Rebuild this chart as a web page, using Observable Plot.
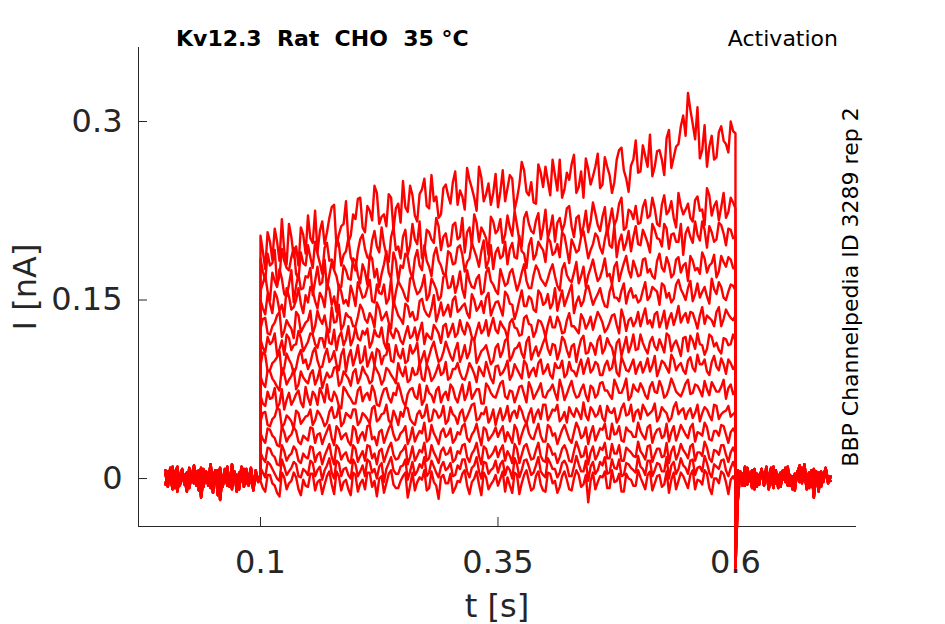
<!DOCTYPE html>
<html><head><meta charset="utf-8">
<script src="https://cdn.jsdelivr.net/npm/d3@7"></script>
<script src="https://cdn.jsdelivr.net/npm/@observablehq/plot@0.6"></script>
<style>body{margin:0;background:#fff} svg{font-family:"DejaVu Sans",sans-serif}</style>
</head><body><div id="chart"></div>
<script>
const xTicks = [0.1, 0.35, 0.6];
const yTicks = [0, 0.15, 0.3];
const xDomain = [-0.0284, 0.7274];
const yDomain = [-0.0403, 0.3622];
const stepStart = 0.1, stepDt = 0.005, baseDt = 0.0025, postStart = 0.6;
const title = "Kv12.3  Rat  CHO  35 °C";
const protocol = "Activation";
const source = "BBP Channelpedia ID 3289 rep 2";

// currents in pA during the voltage step, samples at 0.100, 0.105, ... 0.600 s
const sweep1 = [204,176,199,210,183,192,214,186,179,205, 221,198,190,216,207,228,195,212,233,204, 218,236,207,225,246,214,222,239,209,231, 250,224,238,216,243,229,255,237,222,247, 231,258,242,226,251,236,262,233,248,240, 228,259,244,252,235,266,241,249,231,257, 262,238,255,268,243,251,272,245,236,260, 254,273,247,262,240,268,278,252,263,284, 258,271,289,262,276,255,293,270,281,305, 324,298,312,276,262,288,270,296,281,300, 290];
const sweep2 = [185,166,179,192,170,183,175,194,168,181, 196,177,189,172,198,184,203,179,191,186, 175,201,193,184,208,190,197,182,211,195, 203,188,214,197,185,209,201,219,192,206, 196,215,203,190,211,222,199,207,188,216, 209,198,221,204,213,195,224,208,217,201, 226,210,199,219,214,229,203,221,212,207, 232,213,220,205,227,218,236,211,224,229, 215,234,221,227,212,238,225,219,240,222, 231,216,237,226,244,221,233,228,219,236, 227];
const sweep3 = [158,171,150,166,176,155,163,148,172,160, 169,154,178,165,159,182,170,161,175,167, 183,164,174,188,169,161,180,173,190,166, 177,186,168,192,175,183,170,194,179,172, 189,181,196,174,185,192,178,200,183,176, 194,187,180,198,185,191,177,202,188,195, 182,199,190,186,204,181,196,192,208,185, 197,203,189,210,194,186,205,198,191,212, 196,204,190,209,201,214,193,206,199,188, 211,198,205,216,194,207,201,213,196,209, 203];
const sweep4 = [150,138,147,157,141,136,153,144,160,139, 148,158,143,152,164,146,140,157,150,162, 145,159,153,167,148,156,163,151,144,166, 158,149,170,155,162,150,168,159,153,172, 161,156,174,152,166,160,171,157,177,163, 155,169,164,176,158,173,166,160,179,168, 162,175,170,158,181,167,173,164,178,171, 184,166,176,170,163,182,174,187,169,177, 171,185,176,168,189,174,180,172,186,179, 166,183,177,190,173,181,169,187,178,184, 176];
const sweep5 = [126,135,121,131,140,124,129,118,137,127, 133,122,141,130,126,144,132,125,139,135, 128,146,134,139,127,143,136,131,149,137, 130,145,140,134,151,138,143,132,148,141, 136,153,142,147,135,150,144,139,156,143, 149,137,154,146,141,158,145,151,140,155, 148,143,160,150,145,157,139,153,149,162, 146,155,151,144,163,152,158,147,160,154, 150,165,153,159,146,162,156,151,167,155, 160,149,164,157,153,168,155,161,150,163, 158];
const sweep6 = [117,106,113,122,109,104,118,112,124,107, 115,121,110,118,126,113,108,123,117,112, 127,116,121,110,125,119,114,129,118,123, 113,128,120,116,131,122,117,126,114,130, 124,119,133,121,127,116,131,125,120,135, 122,128,118,134,126,121,137,129,124,132, 119,136,127,131,123,139,128,122,134,130, 125,140,131,126,137,129,142,124,135,132, 128,143,133,138,127,141,134,129,145,136, 131,139,126,144,137,133,140,128,142,135, 137];
const sweep7 = [95,104,91,99,107,93,100,88,103,97, 92,106,99,94,109,101,96,104,90,108, 102,97,111,100,95,107,103,113,98,104, 109,99,105,114,101,96,110,106,100,115, 103,108,98,112,106,117,102,109,104,99, 113,107,118,103,110,105,115,100,111,108, 119,104,112,107,116,102,113,109,120,106, 111,116,105,118,110,114,103,119,112,108, 121,109,115,111,117,106,120,113,110,118, 107,116,122,112,109,119,114,105,117,113, 116];
const sweep8 = [86,77,90,81,74,88,83,92,79,85, 80,91,84,76,89,86,94,81,87,78, 92,85,89,80,95,87,83,91,84,97, 86,81,93,88,84,96,82,90,87,98, 85,92,89,83,97,88,94,86,91,80, 95,89,99,87,92,84,96,90,86,100, 91,87,97,93,85,98,90,94,88,101, 92,96,87,99,93,89,102,91,95,88, 98,94,90,103,92,97,89,100,95,91, 99,93,104,96,90,98,94,101,88,97, 95];
const sweep9 = [70,61,67,76,63,58,72,66,74,60, 68,73,62,71,79,65,69,59,74,67, 63,77,70,66,73,61,75,68,72,80, 65,71,76,67,62,78,70,74,64,73, 79,68,72,66,81,71,75,63,77,69, 74,82,67,73,70,78,64,76,71,80, 68,75,72,83,66,77,73,69,79,65, 76,71,81,74,67,78,72,84,69,75, 80,70,77,73,82,68,76,79,71,74, 83,72,78,69,75,81,73,77,67,79, 74];
const sweep10 = [48,56,44,52,58,46,51,42,55,49, 53,45,57,50,47,60,52,44,55,51, 58,48,53,46,61,50,55,49,57,45, 52,59,47,54,51,62,49,56,53,46, 60,52,55,48,57,63,50,54,47,58, 53,49,61,55,51,57,46,59,54,50, 62,53,57,48,56,60,52,55,64,49, 57,54,51,61,55,47,59,53,62,56, 50,58,55,63,52,57,48,60,54,59, 56,51,62,55,58,49,61,54,57,52, 56];
const sweep11 = [38,30,41,34,27,39,35,43,31,36, 32,42,37,29,40,34,44,33,38,28, 41,36,32,45,35,39,30,42,37,33, 40,29,43,36,38,31,45,34,39,35, 42,33,37,46,31,40,36,43,32,38, 35,44,39,30,41,37,47,34,40,36, 31,43,38,35,45,33,39,42,36,29, 44,37,41,34,46,38,32,43,39,35, 40,33,45,37,42,36,31,44,38,41, 34,46,39,36,43,32,40,45,37,39, 38];
const sweep12 = [22,14,25,18,11,23,19,27,15,21, 17,26,20,12,24,18,28,16,22,13, 25,19,15,27,21,23,14,26,20,17, 24,12,27,19,22,15,28,18,23,20, 26,16,21,29,14,24,19,27,17,22, 18,28,23,13,25,20,29,16,24,19, 14,26,21,18,28,15,23,25,19,12, 27,20,24,17,29,21,15,26,22,18, 23,16,28,20,25,19,13,27,21,24, 17,29,22,19,26,14,23,28,20,22, 21];
const sweep13 = [9,1,12,4,-2,10,6,14,2,8, 3,13,7,-1,11,5,15,2,9,0, 12,6,2,14,8,10,-3,13,7,4, 11,-1,14,6,9,2,15,5,10,7, 13,3,8,16,1,11,6,14,4,9, 5,15,10,0,12,7,16,3,11,6, 1,13,8,5,15,2,10,12,6,-2, 14,7,11,4,16,8,2,13,9,5, 10,3,15,7,12,6,0,14,8,11, 4,16,9,6,13,1,10,15,7,9, 8];
const sweep14 = [-2,-11,3,-6,-15,1,-4,5,-9,-1, -7,4,-3,-13,2,-5,6,-10,-1,-14, 3,-4,-9,5,-2,0,-12,4,-5,-8, 2,-16,5,-3,-1,-10,6,-6,1,-4, 4,-8,-3,7,-13,0,-5,5,-9,-2, -6,6,1,-12,3,-4,7,-10,2,-5, -11,4,-2,-7,6,-9,0,3,-5,-20, 5,-3,1,-8,7,-2,-11,4,-1,-6, 1,-9,6,-4,3,-5,-12,5,-2,2, -8,7,-1,-5,4,-13,0,6,-3,-1, -2];

// currents in pA during the step, samples in between: 0.1025, 0.1075, ... 0.5975 s
const mid1 = [191,207,184,199,218,180,203,195,211,189, 202,225,208,197,219,230,205,214,199,222, 235,211,229,217,240,220,212,236,227,215, 228,246,221,239,252,227,233,219,244,238, 249,230,237,261,244,225,253,239,230,256, 241,233,255,226,247,259,238,232,264,245, 250,268,242,236,257,264,240,258,269,247, 262,244,270,255,249,276,259,241,268,257, 280,262,254,275,268,286,261,279,296,288, 310,285,269,297,279,268,291,284,274,292];
const mid2 = [174,189,181,163,193,177,186,172,190,179, 186,199,181,194,183,176,197,188,202,181, 191,205,186,200,195,211,188,203,192,185, 209,196,201,216,190,207,198,212,203,195, 213,201,219,207,196,215,211,202,220,206, 218,205,211,225,200,219,214,206,223,211, 202,221,215,208,227,212,219,204,225,216, 223,208,228,216,213,231,209,226,218,214, 228,219,236,214,230,222,233,211,229,226, 219,234,225,213,238,229,217,240,224,232];
const mid3 = [164,157,173,161,168,153,175,162,159,170, 177,166,163,184,171,175,160,179,168,185, 171,180,163,185,176,172,191,168,183,179, 189,174,185,179,196,178,188,183,172,191, 180,194,188,182,198,186,191,177,196,190, 185,199,193,186,204,189,196,184,199,192, 202,188,197,207,193,201,190,203,197,192, 206,194,201,196,213,199,192,208,203,197, 209,198,214,202,195,210,205,199,214,206, 203,216,200,209,212,199,215,206,210,202];
const mid4 = [143,155,139,152,146,160,142,150,147,154, 161,149,156,144,159,153,163,147,145,155, 165,152,160,149,163,155,147,168,157,162, 152,168,161,157,171,154,164,150,169,160, 170,163,159,175,161,168,155,173,166,158, 176,162,173,167,164,180,160,171,175,165, 168,180,162,176,171,165,182,170,161,177, 174,169,185,172,178,166,181,175,183,170, 184,173,170,183,177,186,169,184,173,181, 187,175,172,185,179,188,174,182,186,177];
const mid5 = [134,122,128,137,119,133,126,140,123,131, 141,128,134,137,123,131,146,129,136,128, 136,142,131,135,148,133,140,126,143,134, 147,136,133,149,142,136,154,139,137,146, 150,140,145,139,155,141,149,152,137,148, 143,157,147,134,150,145,153,142,158,146, 155,147,141,158,151,163,148,145,159,154, 151,160,145,157,152,149,164,156,152,148, 158,150,161,157,164,152,148,163,159,150, 166,155,152,161,147,159,165,152,157,162];
const mid6 = [110,119,115,104,116,121,108,113,118,111, 122,113,118,110,114,125,119,112,128,117, 118,124,126,115,120,127,109,122,126,116, 121,118,127,124,113,119,129,122,128,119, 130,122,125,131,119,124,122,133,128,125, 132,125,131,127,120,135,130,119,133,127, 129,127,136,122,133,128,125,138,126,136, 133,136,123,131,138,122,135,133,128,140, 136,130,127,140,133,126,139,136,131,139, 140,133,137,130,135,128,144,134,138,133];
const mid7 = [106,90,97,102,87,105,96,93,108,100, 97,110,93,103,98,107,91,109,102,95, 112,99,94,106,109,96,104,99,112,101, 97,112,108,95,107,103,115,98,106,109, 99,114,104,101,118,97,107,112,96,110, 102,116,99,109,114,101,119,106,103,114, 109,113,100,119,108,111,98,117,105,114, 104,120,109,113,101,117,111,106,121,109, 114,105,119,108,112,122,107,116,103,119, 120,109,113,104,121,111,108,118,112,121];
const mid8 = [80,91,84,77,93,79,86,75,90,82, 88,79,92,83,85,93,78,90,84,89, 80,94,86,82,91,79,93,87,80,90, 94,83,87,97,82,91,85,96,89,83, 92,97,84,89,93,81,90,98,84,94, 87,93,83,96,88,99,85,93,97,88, 96,84,93,99,88,91,86,100,95,89, 98,87,95,91,103,86,97,90,100,94, 89,101,95,86,99,93,104,91,97,88, 102,90,96,100,87,103,91,96,100,92];
const mid9 = [63,73,68,59,75,66,62,71,64,77, 62,70,76,64,67,73,61,77,70,63, 74,65,72,78,62,69,76,64,70,73, 61,75,69,79,66,72,64,77,70,66, 76,64,79,71,67,75,63,80,72,68, 80,69,74,64,77,71,81,67,75,69, 73,79,66,76,71,82,68,75,70,78, 68,80,74,70,83,72,77,66,79,73, 76,67,81,72,77,70,84,73,69,80, 71,79,74,82,70,77,73,83,76,71];
const mid10 = [55,45,50,59,43,53,48,57,46,52, 58,49,54,44,56,51,61,47,53,58, 45,55,50,59,48,54,62,46,52,56, 60,50,45,57,53,48,58,51,61,49, 54,46,58,52,62,49,55,60,51,45, 59,53,48,57,61,50,54,47,58,62, 49,58,62,51,47,55,59,50,53,60, 52,61,48,56,59,51,63,54,48,58, 62,53,57,48,60,55,51,64,57,50, 59,55,48,60,53,62,50,56,61,54];
const mid11 = [33,42,36,28,44,31,37,40,29,34, 43,30,38,35,45,28,41,36,31,44, 30,39,44,33,28,41,36,46,32,38, 44,34,31,40,47,33,38,29,42,37, 30,39,44,34,37,46,28,41,35,43, 40,31,35,45,29,43,38,33,46,31, 45,36,29,41,39,30,47,34,43,38, 32,42,46,33,37,44,31,40,35,47, 36,43,30,41,34,46,39,32,45,37, 43,31,38,47,33,40,36,44,30,42];
const mid12 = [17,26,20,12,28,15,21,24,13,18, 27,14,22,19,29,12,25,20,15,28, 14,23,28,17,12,25,20,30,16,22, 28,18,15,24,30,17,22,13,26,21, 14,23,28,18,21,30,12,25,19,27, 24,15,19,29,13,27,22,17,30,15, 29,20,13,25,23,14,31,18,27,22, 16,26,30,17,21,28,15,24,19,31, 20,27,14,25,18,30,23,16,29,21, 27,15,22,31,17,24,20,28,14,26];
const mid13 = [5,14,8,0,16,3,9,12,1,6, 15,2,10,7,17,0,13,8,3,16, 2,11,16,5,0,13,8,18,4,10, 16,6,3,12,18,5,10,1,14,9, 2,11,16,6,9,18,0,13,7,15, 12,3,7,17,1,15,10,5,18,3, 17,8,1,13,11,2,19,6,15,10, 4,14,18,5,9,16,3,12,7,19, 8,15,2,13,6,18,11,4,17,9, 15,3,10,19,5,12,8,16,2,14];
const mid14 = [-8,3,-4,-12,5,-9,-2,1,-14,-6, 4,-10,-1,-5,6,-13,2,-3,-9,5, -11,-1,5,-7,-15,2,-4,7,-8,-2, 5,-6,-10,1,7,-8,-3,-17,3,-4, -12,-2,4,-6,-3,6,-14,1,-5,3, 0,-11,-6,5,-13,3,-2,-8,6,-10, 5,-4,-12,2,-1,-10,7,-7,3,-2, -9,2,6,-8,-3,4,-11,0,-6,7, -4,3,-10,2,-7,6,-1,-9,5,-3, 3,-9,-2,7,-8,0,-4,4,-13,2];

// holding current in pA, one sample per 2.5 ms: before the step (0 to 0.1 s) and after it (0.6 to 0.7 s)
const preBase1 = [4,-7,9,-2,6,-11,1,8,-5,5, -8,2,11,-3,7,-16,0,6,-6,3, -12,5,-2,9,-7,1,7,-4,12,-1, 3,-9,6,-3,8,-6,2,-10,5,0, 1];
const preBase2 = [-5,6,-1,10,-8,2,-3,7,0,-11, 5,-2,8,-6,1,9,-7,3,-1,12, -4,0,7,-18,2,-3,10,-7,1,6, -11,5,-2,8,-4,0,9,-6,3,-1, 0];
const preBase3 = [7,-2,1,-9,5,10,-6,0,3,-7, 9,-1,-4,6,-10,2,8,-3,5,-8, 1,7,-14,3,-2,8,-6,0,-9,5, 2,-4,10,-7,1,-2,6,-8,7,-3, 0];
const postBase1 = [-75,-18,5,-6,9,-2,4,-8,7,0, -5,8,-3,6,-9,2,10,-4,3,-7, 5,-1,8,-6,2,-10,6,-3,9,-2, 4,-8,7,-16,3,-5,6,-1,8,-4, 2];
const postBase2 = [2,-8,6,-3,10,-5,1,7,-9,4, -2,8,-6,3,0,9,-4,5,-8,2, 7,-3,10,-5,1,-7,4,11,-2,6, -9,3,-4,8,-1,5,-7,2,9,-3, 1];
const postBase3 = [-3,7,-1,4,-6,9,0,-4,8,-7, 3,6,-2,10,-5,1,-8,7,-3,5, -1,9,-6,3,-9,4,0,7,-4,12, -2,5,-7,2,6,-11,4,-3,7,0, -2];

const sweeps = [sweep1,sweep2,sweep3,sweep4,sweep5,sweep6,sweep7,sweep8,sweep9,sweep10,sweep11,sweep12,sweep13,sweep14];
const mids = [mid1,mid2,mid3,mid4,mid5,mid6,mid7,mid8,mid9,mid10,mid11,mid12,mid13,mid14];
const pres = [preBase1, preBase2, preBase3];
const posts = [postBase1, postBase2, postBase3];

const rows = [];
sweeps.forEach((s, k) => {
  pres[k % 3].forEach((v, i) => rows.push({trace: k, t: i * baseDt, i: v / 1000}));
  s.forEach((v, i) => {
    rows.push({trace: k, t: stepStart + i * stepDt, i: v / 1000});
    if (i < mids[k].length) rows.push({trace: k, t: stepStart + i * stepDt + stepDt / 2, i: mids[k][i] / 1000});
  });
  posts[k % 3].forEach((v, i) => rows.push({trace: k, t: postStart + i * baseDt, i: v / 1000}));
});

const axisColor = "#262626";
const plot = Plot.plot({
  width: 945, height: 624,
  marginLeft: 138, marginRight: 89, marginTop: 47, marginBottom: 98,
  style: {fontFamily: '"DejaVu Sans", sans-serif', background: "#fff", overflow: "visible"},
  x: {domain: xDomain},
  y: {domain: yDomain},
  marks: [
    Plot.ruleX([xDomain[0]], {stroke: axisColor, strokeWidth: 1}),
    Plot.ruleY([yDomain[0]], {stroke: axisColor, strokeWidth: 1}),
    Plot.tickX(xTicks, {x: d => d, stroke: axisColor, insetTop: 470}),
    Plot.tickY(yTicks, {y: d => d, stroke: axisColor, insetRight: 709}),
    Plot.axisX(xTicks, {tickSize: 0, tickPadding: 24, fontSize: 32, color: axisColor, tickFormat: d => String(d), label: null}),
    Plot.axisY(yTicks, {tickSize: 0, tickPadding: 16, fontSize: 32, color: axisColor, tickFormat: d => String(d), label: null}),
    Plot.line(rows, {x: "t", y: "i", z: "trace", stroke: "#ff0000", strokeWidth: 2.4})
  ]
});

const svg = d3.select(plot);
svg.append("text").attr("x", 176).attr("y", 46).attr("font-size", 22).attr("font-weight", "bold")
  .attr("text-anchor", "start").attr("fill", "#000").style("white-space", "pre").text(title);
svg.append("text").attr("x", 838).attr("y", 46).attr("font-size", 22).attr("text-anchor", "end")
  .attr("fill", "#000").text(protocol);
svg.append("text").attr("transform", "translate(858,287) rotate(-90)").attr("font-size", 22)
  .attr("text-anchor", "middle").attr("fill", "#000").text(source);
svg.append("text").attr("transform", "translate(36,287) rotate(-90)").attr("font-size", 32)
  .attr("text-anchor", "middle").attr("fill", axisColor).text("I [nA]");
svg.append("text").attr("x", 497).attr("y", 617).attr("font-size", 32)
  .attr("text-anchor", "middle").attr("fill", axisColor).text("t [s]");

document.getElementById("chart").appendChild(plot);
</script>
</body></html>
